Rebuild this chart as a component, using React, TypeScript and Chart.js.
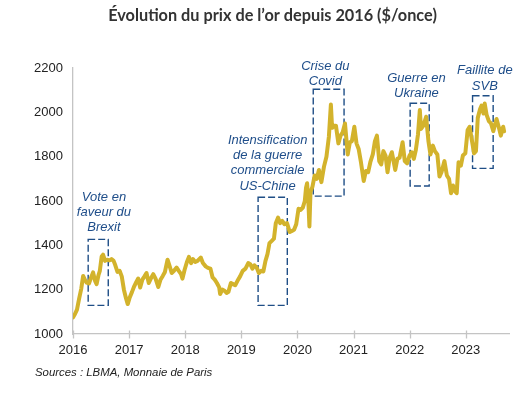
import React, { useEffect, useRef } from 'react';
import { Chart, registerables } from 'chart.js';

Chart.register(...registerables);

const titleText = 'Évolution du prix de l’or depuis 2016 ($/once)';
const sourceText = 'Sources : LBMA, Monnaie de Paris';

const dates = [
  '2016-01-01','2016-01-14','2016-01-27','2016-02-10','2016-02-24','2016-03-07','2016-03-18','2016-03-30','2016-04-14','2016-04-28',
  '2016-05-11','2016-05-24','2016-06-03','2016-06-15','2016-06-24','2016-07-06','2016-07-15','2016-07-28','2016-08-10','2016-08-26',
  '2016-09-08','2016-09-22','2016-10-03','2016-10-17','2016-10-31','2016-11-14','2016-11-28','2016-12-12','2016-12-23',
  '2017-01-05','2017-01-20','2017-02-03','2017-02-17','2017-03-01','2017-03-14','2017-03-28','2017-04-11','2017-04-24','2017-05-09',
  '2017-05-26','2017-06-07','2017-06-22','2017-07-10','2017-07-24','2017-08-08','2017-08-22','2017-09-08','2017-09-20','2017-10-05',
  '2017-10-20','2017-11-06','2017-11-20','2017-12-05','2017-12-14','2017-12-28',
  '2018-01-12','2018-01-25','2018-02-08','2018-02-20','2018-03-07','2018-03-22','2018-04-12','2018-04-26','2018-05-14','2018-05-29',
  '2018-06-14','2018-06-28','2018-07-12','2018-07-26','2018-08-10','2018-08-16','2018-08-30','2018-09-14','2018-09-27','2018-10-09',
  '2018-10-25','2018-11-08','2018-11-22','2018-12-07','2018-12-24',
  '2019-01-10','2019-01-28','2019-02-15','2019-02-28','2019-03-14','2019-03-27','2019-04-12','2019-04-25','2019-05-10','2019-05-24',
  '2019-06-07','2019-06-20','2019-07-03','2019-07-18','2019-08-01','2019-08-13','2019-08-28','2019-09-10','2019-09-24','2019-10-08',
  '2019-10-25','2019-11-12','2019-11-26','2019-12-10','2019-12-24',
  '2020-01-08','2020-01-22','2020-02-05','2020-02-18','2020-02-26','2020-03-04','2020-03-12','2020-03-19','2020-03-26','2020-04-08',
  '2020-04-22','2020-05-06','2020-05-20','2020-06-05','2020-06-22','2020-07-08','2020-07-24','2020-08-06','2020-08-14','2020-08-26',
  '2020-09-08','2020-09-24','2020-10-08','2020-10-22','2020-11-06','2020-11-24','2020-12-08','2020-12-21',
  '2021-01-06','2021-01-20','2021-02-03','2021-02-18','2021-03-08','2021-03-22','2021-04-06','2021-04-20','2021-05-06','2021-05-20',
  '2021-06-02','2021-06-17','2021-06-30','2021-07-14','2021-07-28','2021-08-10','2021-08-24','2021-09-07','2021-09-29','2021-10-13',
  '2021-10-27','2021-11-16','2021-11-30','2021-12-15','2021-12-31',
  '2022-01-14','2022-01-28','2022-02-10','2022-02-24','2022-03-08','2022-03-16','2022-03-31','2022-04-18','2022-05-03','2022-05-16',
  '2022-06-01','2022-06-14','2022-06-30','2022-07-14','2022-07-27','2022-08-15','2022-08-31','2022-09-14','2022-09-27','2022-10-10',
  '2022-10-21','2022-11-03','2022-11-15','2022-11-30','2022-12-13','2022-12-29',
  '2023-01-13','2023-01-26','2023-02-08','2023-02-24','2023-03-08','2023-03-20','2023-04-04','2023-04-13','2023-04-26','2023-05-04',
  '2023-05-16','2023-05-31','2023-06-14','2023-06-29','2023-07-14','2023-07-20','2023-08-03','2023-08-17','2023-09-01','2023-09-07',
];

const prices = [
  1075,1090,1110,1160,1205,1262,1245,1232,1228,1255,
  1278,1240,1225,1265,1285,1350,1358,1330,1335,1332,
  1338,1330,1310,1280,1285,1260,1200,1160,1135,
  1165,1190,1215,1235,1250,1210,1245,1260,1275,1230,
  1255,1270,1250,1212,1245,1262,1280,1335,1310,1275,
  1285,1300,1285,1270,1250,1290,
  1325,1348,1320,1338,1325,1330,1345,1320,1305,1298,
  1295,1255,1245,1230,1210,1180,1200,1195,1185,1190,
  1230,1225,1220,1240,1260,
  1285,1295,1320,1315,1295,1310,1298,1275,1285,1282,
  1330,1360,1410,1420,1430,1500,1525,1500,1510,1495,
  1500,1460,1465,1470,1495,
  1565,1560,1570,1600,1660,1680,1600,1485,1640,1665,
  1715,1700,1740,1685,1755,1800,1890,2035,1930,1940,
  1940,1860,1895,1910,1950,1810,1865,1870,
  1935,1860,1835,1775,1690,1735,1730,1775,1810,1870,
  1895,1780,1765,1825,1805,1730,1795,1820,1740,1790,
  1795,1865,1780,1770,1805,
  1820,1790,1830,1900,2010,1925,1940,1980,1870,1810,
  1850,1825,1810,1710,1730,1780,1715,1700,1635,1670,
  1645,1635,1775,1760,1805,1815,
  1920,1935,1880,1815,1825,1975,2015,2030,1995,2040,
  1990,1960,1950,1915,1955,1970,1935,1895,1935,1915,
];

const yearTicks = [2016, 2017, 2018, 2019, 2020, 2021, 2022, 2023];
const xMin = 2016;
const xMax = 2023.77;
const yMin = 1000;
const yMax = 2200;
const yStep = 200;

// Event annotations
const eventLabels = [
  ['Vote en', 'faveur du', 'Brexit'],
  ['Intensification', 'de la guerre', 'commerciale', 'US-Chine'],
  ['Crise du', 'Covid'],
  ['Guerre en', 'Ukraine'],
  ['Faillite de', 'SVB'],
];
const boxStart = ['2016-04-09', '2019-04-20', '2020-04-13', '2022-01-04', '2023-02-14'];
const boxEnd = ['2016-08-18', '2019-10-27', '2020-10-31', '2022-05-08', '2023-06-28'];
const boxLow = [1129, 1129, 1622, 1668, 1747];
const boxHigh = [1427, 1617, 2104, 2041, 2075];
const labelAt = ['2016-07-21', '2019-06-21', '2020-07-01', '2022-02-14', '2023-05-05'];
const labelBase = [1480, 1668, 2138, 2086, 2119];

function toYear(s: string): number {
  const [y, m, d] = s.split('-').map(Number);
  const start = Date.UTC(y, 0, 1);
  const end = Date.UTC(y + 1, 0, 1);
  return y + (Date.UTC(y, m - 1, d) - start) / (end - start);
}

const decorPlugin = {
  id: 'decor',
  beforeDatasetsDraw(chart: any) {
    const { ctx, scales } = chart;
    const sx = scales.x;
    const sy = scales.y;
    ctx.save();
    ctx.strokeStyle = '#1F4E86';
    ctx.lineWidth = 1.4;
    ctx.setLineDash([7, 3]);
    for (let i = 0; i < boxStart.length; i++) {
      const x0 = sx.getPixelForValue(toYear(boxStart[i]));
      const x1 = sx.getPixelForValue(toYear(boxEnd[i]));
      const y0 = sy.getPixelForValue(boxLow[i]);
      const y1 = sy.getPixelForValue(boxHigh[i]);
      ctx.strokeRect(x0, y1, x1 - x0, y0 - y1);
    }
    ctx.restore();
  },
  afterDraw(chart: any) {
    const { ctx, scales } = chart;
    const sx = scales.x;
    const sy = scales.y;
    ctx.save();
    ctx.strokeStyle = '#c4c4c4';
    ctx.lineWidth = 1.3;
    for (const t of yearTicks) {
      const x = Math.round(sx.getPixelForValue(t)) + 0.5;
      ctx.beginPath();
      ctx.moveTo(x, sx.top - 3.5);
      ctx.lineTo(x, sx.top + 4.5);
      ctx.stroke();
    }
    ctx.fillStyle = '#1F4E8A';
    ctx.font = 'italic 13px "Liberation Sans", Arial, sans-serif';
    ctx.textAlign = 'center';
    ctx.textBaseline = 'middle';
    for (let i = 0; i < eventLabels.length; i++) {
      const lines = eventLabels[i];
      const cx = sx.getPixelForValue(toYear(labelAt[i]));
      const by = sy.getPixelForValue(labelBase[i]);
      for (let j = 0; j < lines.length; j++) {
        ctx.fillText(lines[j], cx, by - (lines.length - 1 - j) * 15.2);
      }
    }
    ctx.fillStyle = '#333333';
    ctx.font = 'bold 16.3px Lato, "Open Sans", sans-serif';
    ctx.textAlign = 'center';
    ctx.textBaseline = 'alphabetic';
    ctx.fillText(titleText, 272.5, 21);
    ctx.fillStyle = '#222222';
    ctx.font = 'italic 11.4px "Liberation Sans", Arial, sans-serif';
    ctx.textAlign = 'left';
    ctx.textBaseline = 'middle';
    ctx.fillText(sourceText, 35, 373);
    ctx.restore();
  },
};

export default function App() {
  const canvasRef = useRef<HTMLCanvasElement>(null);

  useEffect(() => {
    const canvas = canvasRef.current;
    if (!canvas) return;
    const points = dates.map((d, i) => ({ x: toYear(d), y: prices[i] }));
    const chart = new Chart(canvas, {
      type: 'line',
      data: {
        datasets: [
          {
            data: points,
            borderColor: '#D3B32C',
            borderWidth: 4,
            pointRadius: 0,
            tension: 0,
            fill: false,
            borderJoinStyle: 'round',
            borderCapStyle: 'round',
          },
        ],
      },
      options: {
        animation: false,
        responsive: false,
        devicePixelRatio: 1,
        layout: { padding: { top: 68, right: 13, bottom: 35, left: 0 } },
        plugins: { legend: { display: false }, tooltip: { enabled: false }, title: { display: false } },
        scales: {
          x: {
            type: 'linear',
            min: xMin,
            max: xMax,
            afterFit: (scale: any) => { scale.height = 30; },
            grid: { display: false, drawTicks: false },
            border: { display: true, color: '#c4c4c4', width: 1.3 },
            ticks: {
              stepSize: 1,
              includeBounds: false,
              autoSkip: false,
              maxRotation: 0,
              padding: 9,
              color: '#222222',
              font: { family: '"Liberation Sans", Arial, sans-serif', size: 13 },
              callback: (v: any) => String(v),
            },
          },
          y: {
            min: yMin,
            max: yMax,
            afterFit: (scale: any) => { scale.width = 73; },
            grid: { display: false, drawTicks: false },
            border: { display: true, color: '#c4c4c4', width: 1.3 },
            ticks: {
              stepSize: yStep,
              padding: 10,
              color: '#222222',
              font: { family: '"Liberation Sans", Arial, sans-serif', size: 13 },
              callback: (v: any) => String(v),
            },
          },
        },
      },
      plugins: [decorPlugin],
    });
    return () => chart.destroy();
  }, []);

  return (
    <div style={{ position: 'fixed', left: 0, top: 0, width: 522, height: 399, background: '#ffffff' }}>
      <canvas ref={canvasRef} width={522} height={399} style={{ width: 522, height: 399, display: 'block' }} />
    </div>
  );
}
